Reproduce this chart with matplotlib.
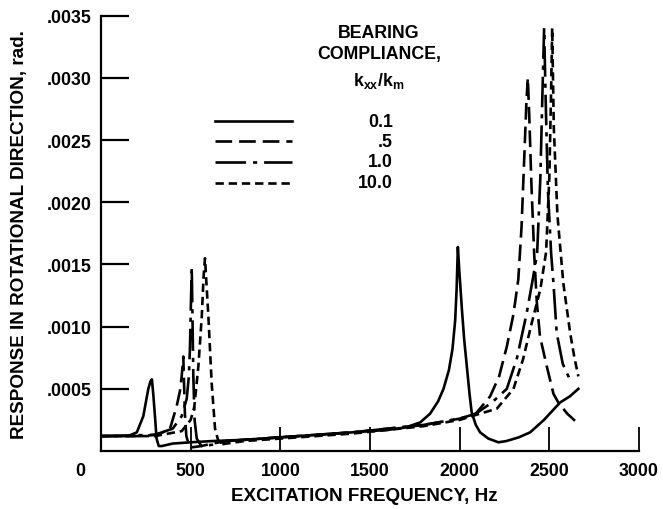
import matplotlib
matplotlib.use("Agg")
import matplotlib.pyplot as plt
from matplotlib.lines import Line2D

plt.rcParams['font.family'] = ['Liberation Sans', 'DejaVu Sans']
plt.rcParams['lines.scale_dashes'] = False
plt.rcParams['mathtext.fontset'] = 'custom'
plt.rcParams['mathtext.rm'] = 'Liberation Sans'
plt.rcParams['mathtext.it'] = 'Liberation Sans'
plt.rcParams['mathtext.bf'] = 'Liberation Sans:bold'

# ---------------- data ----------------
compliance_labels = ["0.1", ".5", "1.0", "10.0"]

freq_01 = [0, 150, 200, 236, 264, 276, 284, 292, 301, 310, 322, 340, 400, 500, 620, 800,
           1000, 1200, 1400, 1500, 1600, 1700, 1780, 1835, 1880, 1910, 1940, 1960, 1975,
           1983, 1990, 1998, 2012, 2025, 2040, 2055, 2067, 2090, 2114, 2160, 2216, 2260,
           2330, 2393, 2470, 2560, 2615, 2662]
resp_01 = [0.00012, 0.00012, 0.00015, 0.00028, 0.00050, 0.00056, 0.000576, 0.00045, 0.00028,
           0.00010, 0.00004, 0.00004, 0.00006, 0.00007, 0.00008, 0.00009,
           0.00011, 0.00013, 0.00015, 0.00016, 0.00017, 0.00019, 0.00023, 0.00030, 0.00040,
           0.00050, 0.00065, 0.00082, 0.00105, 0.00130, 0.00164, 0.00145, 0.00115, 0.00090,
           0.00068, 0.00046, 0.00031, 0.00021, 0.00015, 0.00010, 0.00007, 0.00008,
           0.00011, 0.00015, 0.00025, 0.00039, 0.00044, 0.00050]

freq_05 = [0, 250, 330, 385, 422, 440, 450, 456, 459, 463, 468, 476, 490, 510, 560, 620, 700,
           800, 1000, 1200, 1400, 1600, 1800, 2000, 2090, 2170, 2220, 2263, 2300, 2327, 2345,
           2360, 2372, 2380, 2388, 2400, 2415, 2430, 2448, 2486, 2523, 2550, 2600, 2653]
resp_05 = [0.00012, 0.00012, 0.00014, 0.00018, 0.00036, 0.00048, 0.00060, 0.00070, 0.00076,
           0.00055, 0.00030, 0.00012, 0.00005, 0.00003, 0.00004, 0.00006, 0.00008,
           0.00009, 0.00011, 0.00013, 0.00015, 0.00018, 0.00021, 0.00026, 0.00030, 0.00044,
           0.00060, 0.00084, 0.00110, 0.00138, 0.00180, 0.00235, 0.00280, 0.00300, 0.00270,
           0.00215, 0.00160, 0.00120, 0.00092, 0.00068, 0.00046, 0.00039, 0.00030, 0.00023]

freq_1 = [0, 300, 400, 450, 478, 490, 496, 501, 506, 510, 515, 522, 534, 560, 620, 700, 800,
          1000, 1200, 1400, 1600, 1800, 2000, 2090, 2180, 2263, 2320, 2374, 2410, 2432, 2450,
          2462, 2471, 2480, 2492, 2510, 2523, 2541, 2575, 2616]
resp_1 = [0.00012, 0.00013, 0.00018, 0.00028, 0.00042, 0.00060, 0.00082, 0.00115, 0.00148,
          0.00110, 0.00060, 0.00025, 0.00010, 0.00004, 0.00005, 0.00008, 0.00009,
          0.00011, 0.00013, 0.00015, 0.00018, 0.00021, 0.00026, 0.00030, 0.00039, 0.00050,
          0.00075, 0.00111, 0.00140, 0.00159, 0.00220, 0.00290, 0.00340, 0.00280, 0.00210,
          0.00159, 0.00135, 0.00095, 0.00070, 0.00057]

freq_10 = [0, 300, 450, 500, 520, 543, 562, 572, 580, 588, 599, 617, 636, 660, 700, 800,
           1000, 1200, 1400, 1600, 1800, 2000, 2090, 2207, 2300, 2354, 2402, 2450, 2482,
           2500, 2510, 2516, 2525, 2545, 2578, 2616, 2640, 2662]
resp_10 = [0.00012, 0.00012, 0.00016, 0.00025, 0.00035, 0.00068, 0.00108, 0.00140, 0.00155,
           0.00135, 0.00108, 0.00055, 0.00018, 0.00005, 0.00006, 0.00008,
           0.00010, 0.00012, 0.00014, 0.00017, 0.00020, 0.00025, 0.00029, 0.00034, 0.00050,
           0.00074, 0.00103, 0.00130, 0.00160, 0.00220, 0.00290, 0.00340, 0.00260, 0.00190,
           0.00135, 0.00095, 0.00075, 0.00060]

x_ticks = [500, 1000, 1500, 2000, 2500, 3000]
x_tick_labels = ["500", "1000", "1500", "2000", "2500", "3000"]
y_ticks = [0.0005, 0.0010, 0.0015, 0.0020, 0.0025, 0.0030, 0.0035]
y_tick_labels = [".0005", ".0010", ".0015", ".0020", ".0025", ".0030", ".0035"]

# ---------------- styles ----------------
styles = [
    dict(color='black', lw=1.9, linestyle='-'),
    dict(color='black', lw=1.9, linestyle=(0, (12, 5))),
    dict(color='black', lw=1.9, linestyle=(0, (22, 5, 3, 5))),
    dict(color='black', lw=1.9, linestyle=(0, (6, 3.5))),
]
series = [(freq_01, resp_01), (freq_05, resp_05), (freq_1, resp_1), (freq_10, resp_10)]

FS = 12.8

fig = plt.figure(figsize=(6.63, 5.10), dpi=100)
ax = fig.add_axes([0.1523, 0.1137, 0.8115, 0.8536])

for (f, r), st in zip(series, styles):
    ax.plot(f, r, **st)

ax.set_xlim(0, 3000)
ax.set_ylim(0, 0.0035)

for s in ['top', 'right']:
    ax.spines[s].set_visible(False)
for s in ['left', 'bottom']:
    ax.spines[s].set_linewidth(1.6)

ax.set_xticks(x_ticks)
ax.set_xticklabels(x_tick_labels)
ax.set_yticks(y_ticks)
ax.set_yticklabels(y_tick_labels)
ax.tick_params(axis='x', direction='in', length=17, width=1.3, pad=8, labelsize=FS)
ax.tick_params(axis='y', direction='in', length=20, width=1.6, pad=7, labelsize=FS)
for t in ax.get_xticklabels() + ax.get_yticklabels():
    t.set_fontweight('bold')

ax.annotate("0", xy=(0, 0), xycoords='data', xytext=(-15, -8), textcoords='offset points',
            ha='center', va='top', fontsize=FS, fontweight='bold')

ax.set_xlabel("EXCITATION FREQUENCY, Hz", fontsize=13.6, fontweight='bold')
ax.xaxis.set_label_coords(0.49, -0.083)
ax.set_ylabel("RESPONSE IN ROTATIONAL DIRECTION, rad.", fontsize=13.6, fontweight='bold')
ax.yaxis.set_label_coords(-0.135, 0.5)

# ---------------- legend (drawn manually to mimic layout) ----------------
ax.text(0.517, 0.962, "BEARING", transform=ax.transAxes, ha='center', va='center',
        fontsize=FS, fontweight='bold')
ax.text(0.517, 0.912, "COMPLIANCE,", transform=ax.transAxes, ha='center', va='center',
        fontsize=FS, fontweight='bold')
ax.text(0.517, 0.852, r"$\mathbf{k_{xx}/k_{m}}$", transform=ax.transAxes,
        ha='center', va='center', fontsize=FS)
leg_y = [0.758, 0.711, 0.664, 0.616]
for lab, st, yy in zip(compliance_labels, styles, leg_y):
    ax.add_line(Line2D([0.212, 0.355], [yy, yy], transform=ax.transAxes, **st))
    ax.text(0.543, yy, lab, transform=ax.transAxes, ha='right', va='center',
            fontsize=FS, fontweight='bold')

fig.savefig("out.png", dpi=100)
